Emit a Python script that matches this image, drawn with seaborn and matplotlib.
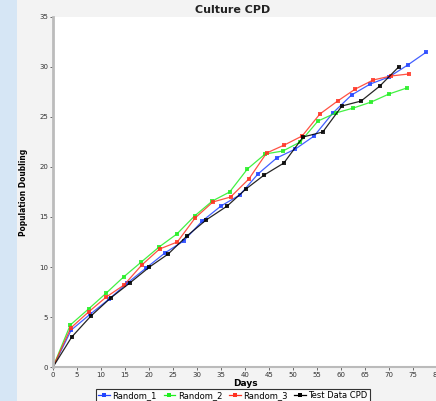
import matplotlib
matplotlib.use("Agg")
import matplotlib.pyplot as plt
from matplotlib.patches import Rectangle
from matplotlib.lines import Line2D
import seaborn as sns
import pandas as pd

# ---- data ----
days_r1 = [0, 3.8, 7.8, 11.7, 15.5, 19.4, 23.3, 27.2, 31.1, 35.0, 38.9, 42.7,
           46.6, 50.5, 54.4, 58.3, 62.2, 66.1, 70.0, 73.9, 77.8]
pd_r1 = [0, 3.7, 5.3, 6.8, 8.4, 9.9, 11.4, 12.6, 14.6, 16.1, 17.2, 19.3,
         20.9, 21.8, 23.1, 25.4, 27.2, 28.3, 29.0, 30.2, 31.5]

days_r2 = [0, 3.6, 7.4, 11.1, 14.7, 18.4, 22.1, 25.8, 29.5, 33.2, 36.8, 40.5,
           44.2, 47.9, 51.5, 55.2, 58.9, 62.6, 66.3, 70.0, 73.7]
pd_r2 = [0, 4.2, 5.8, 7.4, 9.0, 10.5, 12.0, 13.3, 15.1, 16.6, 17.5, 19.8,
         21.3, 21.6, 22.5, 24.6, 25.4, 25.9, 26.5, 27.3, 27.9]

days_r3 = [0, 3.7, 7.4, 11.1, 14.8, 18.5, 22.2, 25.9, 29.6, 33.3, 37.0, 40.8,
           44.5, 48.2, 51.9, 55.6, 59.3, 63.0, 66.7, 70.4, 74.1]
pd_r3 = [0, 3.9, 5.5, 7.0, 8.2, 10.2, 11.8, 12.5, 14.9, 16.5, 17.0, 18.8,
         21.4, 22.2, 23.1, 25.3, 26.6, 27.8, 28.7, 29.1, 29.3]

days_test = [0, 3.9, 7.9, 12.0, 16.0, 20.1, 24.0, 27.9, 31.9, 36.3, 40.2, 44.0,
             48.1, 52.1, 56.2, 60.2, 64.2, 68.1, 72.0]
pd_test = [0, 3.0, 5.1, 6.9, 8.4, 10.0, 11.3, 13.1, 14.7, 16.1, 17.8, 19.2,
           20.4, 23.0, 23.5, 26.1, 26.6, 28.1, 30.0]

series_names = ["Random_1", "Random_2", "Random_3", "Test Data CPD"]
series_colors = ["#2244ff", "#22ee22", "#ff3322", "#000000"]
x_ticks = list(range(0, 85, 5))
y_ticks = list(range(0, 40, 5))

frames = []
for name, d, v in zip(series_names, [days_r1, days_r2, days_r3, days_test],
                      [pd_r1, pd_r2, pd_r3, pd_test]):
    frames.append(pd.DataFrame({"Days": d, "PD": v, "Series": name}))
df = pd.concat(frames, ignore_index=True)

fig = plt.figure(figsize=(4.36, 4.01), dpi=100)
fig.patch.set_facecolor("#d6e6f5")
fig.add_artist(Rectangle((17 / 436, 0), 1, 1, transform=fig.transFigure,
                         facecolor="#f3f3f3", edgecolor="none", zorder=0))

ax = fig.add_axes([53 / 436, 34 / 401, 384 / 436, 350 / 401])
ax.set_facecolor("white")

palette = dict(zip(series_names, series_colors))
sns.lineplot(data=df, x="Days", y="PD", hue="Series", palette=palette,
             estimator=None, sort=False, marker="s", markersize=3.2,
             markeredgewidth=0, linewidth=0.9, ax=ax, legend=False)
for ln in ax.lines:
    ln.set_alpha(0.85)

ax.set_xlim(0, 80)
ax.set_ylim(0, 35)
ax.set_xticks(x_ticks)
ax.set_yticks(y_ticks)
ax.tick_params(labelsize=5, colors="#555555", length=2, width=0.6, pad=1.5)
for lab in ax.get_xticklabels() + ax.get_yticklabels():
    lab.set_color("#333333")

for s in ["top", "right"]:
    ax.spines[s].set_visible(False)
ax.spines["left"].set_color("#bbbbbb")
ax.spines["left"].set_linewidth(2)
ax.spines["bottom"].set_color("#bbbbbb")
ax.spines["bottom"].set_linewidth(1.5)

ax.set_xlabel("Days", fontsize=6.5, fontweight="bold", labelpad=1)
ax.set_ylabel("Population Doubling", fontsize=6, fontweight="bold", labelpad=8,
              fontstretch="condensed")
fig.text(233 / 436, 1 - 10 / 401, "Culture CPD", ha="center", va="center",
         fontsize=8, fontweight="bold", color="#222222")

handles = [Line2D([0], [0], color=c, marker="s", markersize=3.2,
                  markeredgewidth=0, linewidth=0.9) for c in series_colors]
leg = fig.legend(handles, series_names, loc="upper center",
                 bbox_to_anchor=(233 / 436, 1 - 389 / 401), ncol=4,
                 fontsize=6, frameon=True, fancybox=False, handlelength=1.4,
                 handletextpad=0.3, columnspacing=0.8, borderpad=0.25,
                 borderaxespad=0)
leg.get_frame().set_edgecolor("black")
leg.get_frame().set_linewidth(0.8)
leg.get_frame().set_facecolor("white")

fig.savefig("out.png", dpi=100, facecolor=fig.get_facecolor())
